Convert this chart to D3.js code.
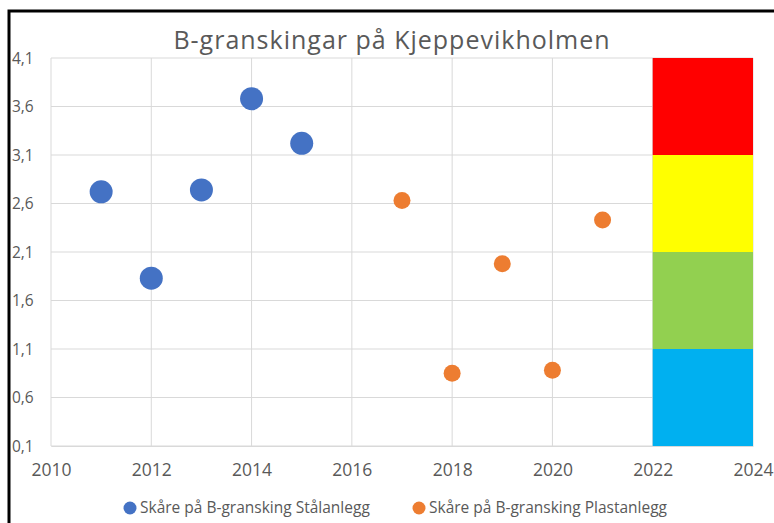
<!DOCTYPE html>
<html>
<head>
<meta charset="utf-8">
<script src="https://cdn.jsdelivr.net/npm/d3@7"></script>
<style>
  body { margin: 0; background: #fff; }
  text { font-family: "Open Sans", "Noto Sans", sans-serif; fill: #595959; }
</style>
</head>
<body>
<div id="chart"></div>
<script>
// data
const staalYears = [2011, 2012, 2013, 2014, 2015];
const staalScores = [2.72, 1.83, 2.74, 3.68, 3.22];
const plastYears = [2017, 2018, 2019, 2020, 2021];
const plastScores = [2.63, 0.85, 1.98, 0.88, 2.43];

// classification bands (2022-2024)
const bandLimits = [0.1, 1.1, 2.1, 3.1, 4.1];
const bandColors = ["#00B0F0", "#92D050", "#FFFF00", "#FF0000"];
const bandFrom = 2022, bandTo = 2024;

const xTicks = [2010, 2012, 2014, 2016, 2018, 2020, 2022, 2024];
const yTicks = [0.1, 0.6, 1.1, 1.6, 2.1, 2.6, 3.1, 3.6, 4.1];

const seriesNames = ["Skåre på B-gransking Stålanlegg", "Skåre på B-gransking Plastanlegg"];

const svgWidth = 774, svgHeight = 523;
const margin = { top: 58, right: 21, bottom: 77, left: 51 };
const width = svgWidth - margin.left - margin.right;
const height = svgHeight - margin.top - margin.bottom;

const svg = d3.select("#chart").append("svg")
    .attr("width", svgWidth)
    .attr("height", svgHeight);

// outer frame (runs off the right and bottom edges)
svg.append("rect")
    .attr("x", 9).attr("y", 11)
    .attr("width", 900).attr("height", 700)
    .attr("fill", "none")
    .attr("stroke", "#000")
    .attr("stroke-width", 3);

const g = svg.append("g")
    .attr("transform", `translate(${margin.left}, ${margin.top})`);

const x = d3.scaleLinear().domain([2010, 2024]).range([0, width]);
const y = d3.scaleLinear().domain([0.1, 4.1]).range([height, 0]);

// gridlines
g.append("g").selectAll("line")
    .data(yTicks)
    .join("line")
    .attr("x1", 0).attr("x2", width)
    .attr("y1", d => y(d)).attr("y2", d => y(d))
    .attr("stroke", "#d9d9d9");

g.append("g").selectAll("line")
    .data(xTicks)
    .join("line")
    .attr("x1", d => x(d)).attr("x2", d => x(d))
    .attr("y1", 0).attr("y2", height)
    .attr("stroke", "#d9d9d9");

// colour bands
const bands = bandColors.map((c, i) => ({ lo: bandLimits[i], hi: bandLimits[i + 1], color: c }));
g.append("g").selectAll("rect")
    .data(bands)
    .join("rect")
    .attr("x", x(bandFrom))
    .attr("width", x(bandTo) - x(bandFrom))
    .attr("y", d => y(d.hi))
    .attr("height", d => y(d.lo) - y(d.hi))
    .attr("fill", d => d.color);

// axes
const fmt = d3.format(".1f");
const yAxis = g.append("g")
    .call(d3.axisLeft(y).tickValues(yTicks).tickSize(0).tickFormat(d => fmt(d).replace(".", ",")));
yAxis.select(".domain").remove();
yAxis.selectAll("text")
    .attr("text-anchor", "start")
    .attr("x", -39)
    .attr("dy", "0.35em")
    .style("font-size", "15.5px")
    .style("fill", "#595959");

const xAxis = g.append("g")
    .attr("transform", `translate(0, ${height})`)
    .call(d3.axisBottom(x).tickValues(xTicks).tickSize(0).tickFormat(d3.format("d")));
xAxis.select(".domain").attr("stroke", "#d9d9d9");
xAxis.selectAll("text")
    .attr("y", 18)
    .style("font-size", "17.5px")
    .style("fill", "#595959");

// points
g.append("g").selectAll("circle")
    .data(staalYears.map((yr, i) => ({ yr, v: staalScores[i] })))
    .join("circle")
    .attr("cx", d => x(d.yr))
    .attr("cy", d => y(d.v))
    .attr("r", 11.5)
    .attr("fill", "#4472C4");

g.append("g").selectAll("circle")
    .data(plastYears.map((yr, i) => ({ yr, v: plastScores[i] })))
    .join("circle")
    .attr("cx", d => x(d.yr))
    .attr("cy", d => y(d.v))
    .attr("r", 8.5)
    .attr("fill", "#ED7D31");

// title
svg.append("text")
    .attr("x", 392)
    .attr("y", 49)
    .attr("text-anchor", "middle")
    .style("font-size", "25px")
    .style("letter-spacing", "1px")
    .text("B-granskingar på Kjeppevikholmen");

// legend
const legend = svg.append("g");
const legendX = [130, 419];
const legendColors = ["#4472C4", "#ED7D31"];
seriesNames.forEach((name, i) => {
    legend.append("circle")
        .attr("cx", legendX[i]).attr("cy", 508)
        .attr("r", 6.5)
        .attr("fill", legendColors[i]);
    legend.append("text")
        .attr("x", legendX[i] + 10)
        .attr("y", 513)
        .style("font-size", "15.5px")
        .text(name);
});
</script>
</body>
</html>
